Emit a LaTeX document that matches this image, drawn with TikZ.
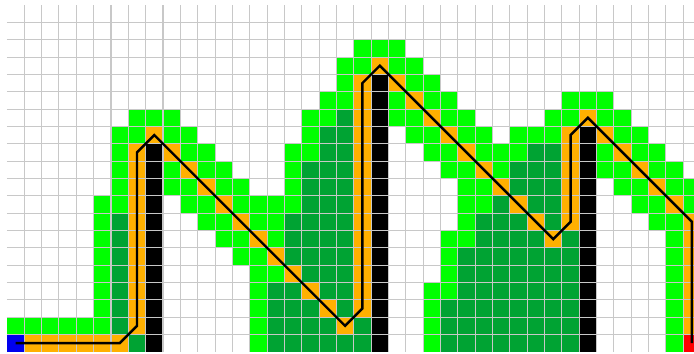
\documentclass[tikz,border=0pt]{standalone}
\usepackage{tikz}
\definecolor{OpenGreen}{HTML}{00FF00}
\definecolor{ClosedGreen}{HTML}{00A333}
\definecolor{PathOrange}{HTML}{FFB000}
\definecolor{StartBlue}{HTML}{0000EE}
\definecolor{GoalRed}{HTML}{FF0000}
\definecolor{GridGray}{HTML}{C8C8C8}

\begin{document}
\begin{tikzpicture}[x=0.5cm,y=-0.5cm,
    gridline/.style={GridGray,line width=0.85pt},
    route/.style={black,line width=2pt}]
    \useasboundingbox (-0.4,-0.29) rectangle (39.62,20.1);
    \fill[white] (-0.4,-0.29) rectangle (39.62,20.1);

    \foreach \rw/\cols in {2/{20,21,22},3/{19,20,22,23},4/{19,23,24},
        5/{18,19,22,24,25,32,33,34},
        6/{7,8,9,17,18,22,23,25,26,31,32,34,35},
        7/{6,7,9,10,17,23,24,26,27,29,30,31,35,36},
        8/{6,10,11,16,17,24,25,27,28,29,34,36,37},
        9/{6,9,11,12,16,25,26,28,34,35,37,38},
        10/{6,9,10,12,13,16,26,27,35,36,38,39},
        11/{5,6,10,11,13,14,15,16,26,27,36,37,39},
        12/{5,11,12,14,15,26,37,38},13/{5,12,13,15,25,26,38},
        14/{5,13,14,25,38},15/{5,14,15,25,38},16/{5,14,24,25,38},
        17/{5,14,24,38},18/{0,1,2,3,4,5,14,24,38},19/{14,24,38}} {
      \foreach \cl in \cols
        \fill[OpenGreen] (\cl,\rw) rectangle ++(1,1);
    }
    \foreach \rw/\cols in {6/{19},7/{18,19},8/{18,19,30,31},
        9/{17,18,19,29,30,31},10/{17,18,19,29,30,31},11/{17,18,19,28,30,31},
        12/{6,16,17,18,19,27,28,29,31},
        13/{6,16,17,18,19,27,28,29,30,32},
        14/{6,16,17,18,19,26,27,28,29,30,31,32},
        15/{6,17,18,19,26,27,28,29,30,31,32},
        16/{6,15,16,18,19,26,27,28,29,30,31,32},
        17/{6,15,16,17,19,25,26,27,28,29,30,31,32},
        18/{6,15,16,17,18,20,25,26,27,28,29,30,31,32},
        19/{7,15,16,17,18,19,20,25,26,27,28,29,30,31,32}} {
      \foreach \cl in \cols
        \fill[ClosedGreen] (\cl,\rw) rectangle ++(1,1);
    }

    \foreach \cl in {1,...,6}
      \fill[PathOrange] (\cl,19) rectangle ++(1,1);
    \fill[PathOrange] (7,18) rectangle ++(1,1);
    \foreach \cl/\ra/\rb in {7/8/17,20/4/17,32/7/12,39/13/18} {
      \foreach \rw in {\ra,...,\rb}
        \fill[PathOrange] (\cl,\rw) rectangle ++(1,1);
    }
    \foreach \ca/\ra/\n in {8/7/11,21/3/10,33/6/6} {
      \foreach \k in {0,...,\n}
        \fill[PathOrange] ({\ca+\k},{\ra+\k}) rectangle ++(1,1);
    }

    \foreach \cl/\top in {8/8,21/4,33/7}
      \fill[black] (\cl,\top) rectangle ({\cl+1},20);
    \fill[StartBlue] (0,19) rectangle (1,20);
    \fill[GoalRed] (39,19) rectangle (40,20);

    \foreach \i in {1,...,39}
      \draw[gridline] (\i,0) -- (\i,20);
    \foreach \j in {1,...,19}
      \draw[gridline] (0,\j) -- (40,\j);

    \draw[route] (0.5,19.5) -- (6.5,19.5) -- (7.5,18.5) -- (7.5,8.5) -- (8.5,7.5)
      -- (19.5,18.5) -- (20.5,17.5) -- (20.5,4.5) -- (21.5,3.5) -- (31.5,13.5)
      -- (32.5,12.5) -- (32.5,7.5) -- (33.5,6.5) -- (39.5,12.5) -- (39.5,19.5);
\end{tikzpicture}
\end{document}
